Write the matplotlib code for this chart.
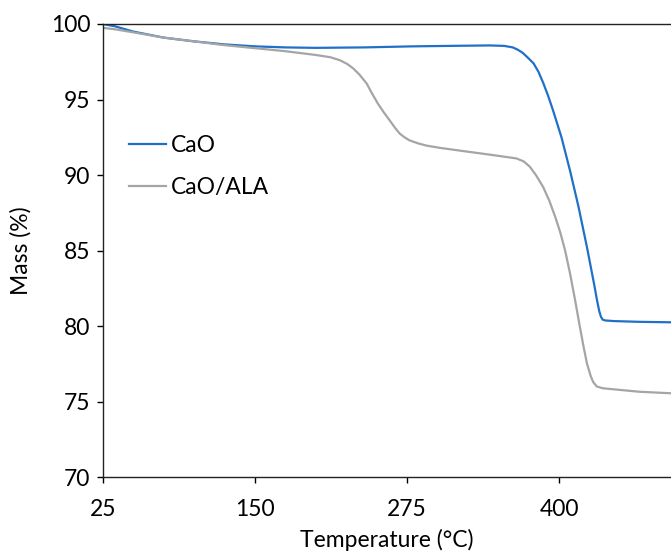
import numpy as np
from matplotlib import pyplot as plt

# TGA data
temp_cao = [25, 35, 50, 75, 100, 125, 150, 175, 200, 240, 280, 320, 343, 355,
            362, 366, 370, 374, 379, 383, 387, 391, 395, 402, 409, 416, 423,
            429, 431, 433, 434.5, 436, 438, 445, 466, 492]
mass_cao = [100.0, 99.85, 99.5, 99.1, 98.85, 98.65, 98.52, 98.45, 98.42, 98.45,
            98.52, 98.56, 98.58, 98.55, 98.45, 98.3, 98.1, 97.8, 97.4, 96.85,
            96.1, 95.25, 94.3, 92.5, 90.3, 87.9, 85.2, 82.7, 81.8, 81.0, 80.6,
            80.42, 80.37, 80.33, 80.28, 80.25]

temp_ala = [25, 35, 50, 75, 100, 125, 150, 175, 200, 212, 220, 226, 231, 236,
            242, 246, 251, 256, 261, 265, 269, 273, 277, 284, 291, 302, 320,
            343, 365, 371, 376, 381, 387, 392, 397, 401, 405, 409, 413, 417,
            420, 423, 426, 428, 431, 436, 466, 492]
mass_ala = [99.75, 99.65, 99.45, 99.1, 98.85, 98.6, 98.4, 98.2, 97.95, 97.8,
            97.6, 97.35, 97.05, 96.65, 96.05, 95.45, 94.75, 94.15, 93.6, 93.15,
            92.75, 92.5, 92.3, 92.1, 91.95, 91.8, 91.6, 91.35, 91.1, 90.9,
            90.55, 90.0, 89.2, 88.3, 87.2, 86.2, 85.0, 83.5, 81.8, 80.0, 78.7,
            77.5, 76.7, 76.3, 76.0, 75.88, 75.65, 75.55]

x_ticks = [25, 150, 275, 400]
y_ticks = [70, 75, 80, 85, 90, 95, 100]

plt.rcParams['font.family'] = ['Lato', 'DejaVu Sans']

fig = plt.figure(figsize=(6.71, 5.58), dpi=100)
ax = fig.add_axes([0.153, 0.145, 0.847, 0.812])

ax.plot(temp_cao, mass_cao, color='#2070C8', lw=1.6, label='CaO')
ax.plot(temp_ala, mass_ala, color='#A5A5A5', lw=1.6, label='CaO/ALA')

ax.set_xlim(25, 492)
ax.set_ylim(70, 100)
ax.set_xticks(x_ticks)
ax.set_yticks(y_ticks)
ax.tick_params(direction='out', length=4, width=1, labelsize=16.5,
               colors='black', pad=5)
ax.tick_params(axis='x', pad=12)

# spines: keep left, bottom, top; right is cut off
ax.spines['right'].set_visible(False)
for s in ['left', 'bottom', 'top']:
    ax.spines[s].set_linewidth(1)
    ax.spines[s].set_color('#222222')

ax.set_xlabel('Temperature (°C)', fontsize=16.5, labelpad=6)
ax.set_ylabel('Mass (%)', fontsize=16.5, labelpad=14)

ax.legend(loc='upper left', bbox_to_anchor=(0.01, 0.80), frameon=False,
          fontsize=16.5, handlelength=1.6, handletextpad=0.25,
          labelspacing=0.9)

plt.savefig('out.png', dpi=100)
